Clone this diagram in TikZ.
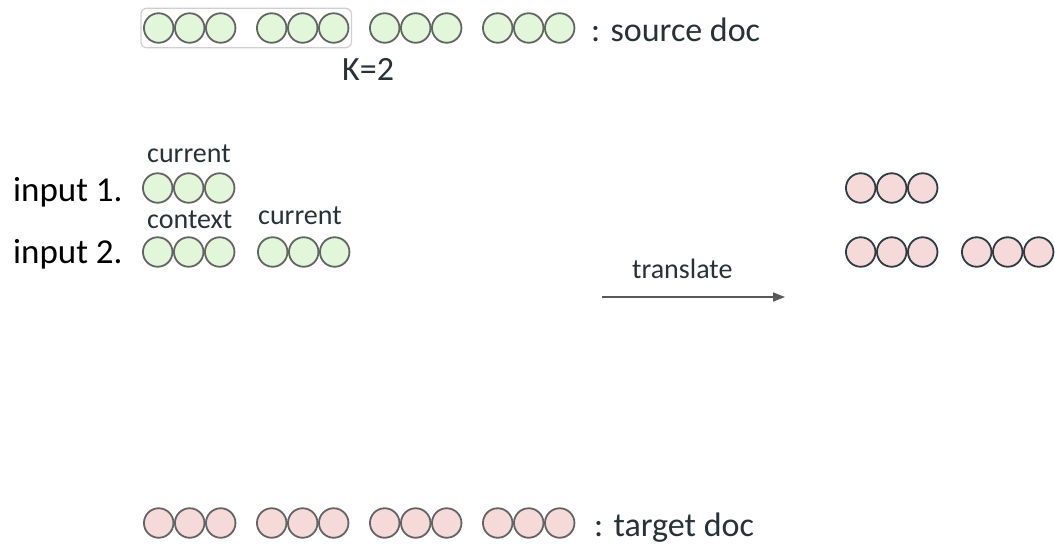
\documentclass[tikz,border=0pt]{standalone}
\usepackage{fontspec}
\setmainfont{Carlito}
\usetikzlibrary{arrows.meta,fit}

\definecolor{ink}{HTML}{263238}
\definecolor{leaf}{HTML}{E2F6D9}
\definecolor{blush}{HTML}{F6DADA}
\definecolor{rim}{HTML}{646464}
\definecolor{darkrim}{HTML}{2F3B42}
\definecolor{boxline}{HTML}{CFCFCF}
\definecolor{arrowgray}{HTML}{595959}

\tikzset{
  tok/.style={circle, draw=rim, line width=1.8pt, minimum size=29.5pt, inner sep=0pt, outer sep=0pt},
  srctok/.style={tok, fill=leaf},
  tgttok/.style={tok, fill=blush},
  outtok/.style={tok, fill=blush, draw=darkrim},
  small/.style={text=ink, font=\fontsize{28}{30}\selectfont, inner sep=0pt, anchor=base west},
  large/.style={text=ink, font=\fontsize{34}{38}\selectfont, inner sep=0pt, anchor=base west},
  rowlabel/.style={text=black, font=\fontsize{35}{38}\selectfont, inner sep=0pt, anchor=base west},
  kbox/.style={draw=boxline, line width=1.2pt, rounded corners=6pt, inner xsep=3pt, inner ysep=5pt},
  flow/.style={draw=arrowgray, line width=1.5pt, -{Triangle[length=12pt,width=9pt]}},
}

% three touching tokens: name, style, left x, centre y
\newcommand\tokrun[4]{%
  \foreach \k in {1,2,3}{\node[#2] (#1-\k) at ({#3+15.7+31*(\k-1)},#4) {};}}

\begin{document}
\begin{tikzpicture}[x=1pt,y=-1pt]
\useasboundingbox (0,0) rectangle (1055,544);

% source document
\tokrun{sa}{srctok}{143}{28}
\tokrun{sb}{srctok}{256}{28}
\tokrun{sc}{srctok}{369}{28}
\tokrun{sd}{srctok}{482}{28}
\node[large] (srclabel) at (591,41) {: source doc};
\node[kbox, fit=(sa-1)(sb-3)] (window) {};
\node[large] (kval) at (342,80) {K=2};

% inputs
\node[rowlabel] (in1) at (13,201) {input 1.};
\node[rowlabel] (in2) at (13,263) {input 2.};
\tokrun{ia}{srctok}{142}{188}
\tokrun{ib}{srctok}{142}{252}
\tokrun{ic}{srctok}{257}{252}
\node[small] (cur1) at (147,162) {current};
\node[small] (ctx2) at (147,228) {context};
\node[small] (cur2) at (258,224) {current};

% translation
\coordinate (tr-a) at (602,297);
\coordinate (tr-b) at (785,297);
\draw[flow] (tr-a) -- (tr-b);
\node[small] (trlabel) at (632,278) {translate};

% outputs
\tokrun{oa}{outtok}{845}{188}
\tokrun{ob}{outtok}{845}{252}
\tokrun{oc}{outtok}{961}{252}

% target document
\tokrun{ta}{tgttok}{143}{523}
\tokrun{tb}{tgttok}{256}{523}
\tokrun{tc}{tgttok}{369}{523}
\tokrun{td}{tgttok}{482}{523}
\node[large] (tgtlabel) at (594,536) {: target doc};
\end{tikzpicture}
\end{document}
